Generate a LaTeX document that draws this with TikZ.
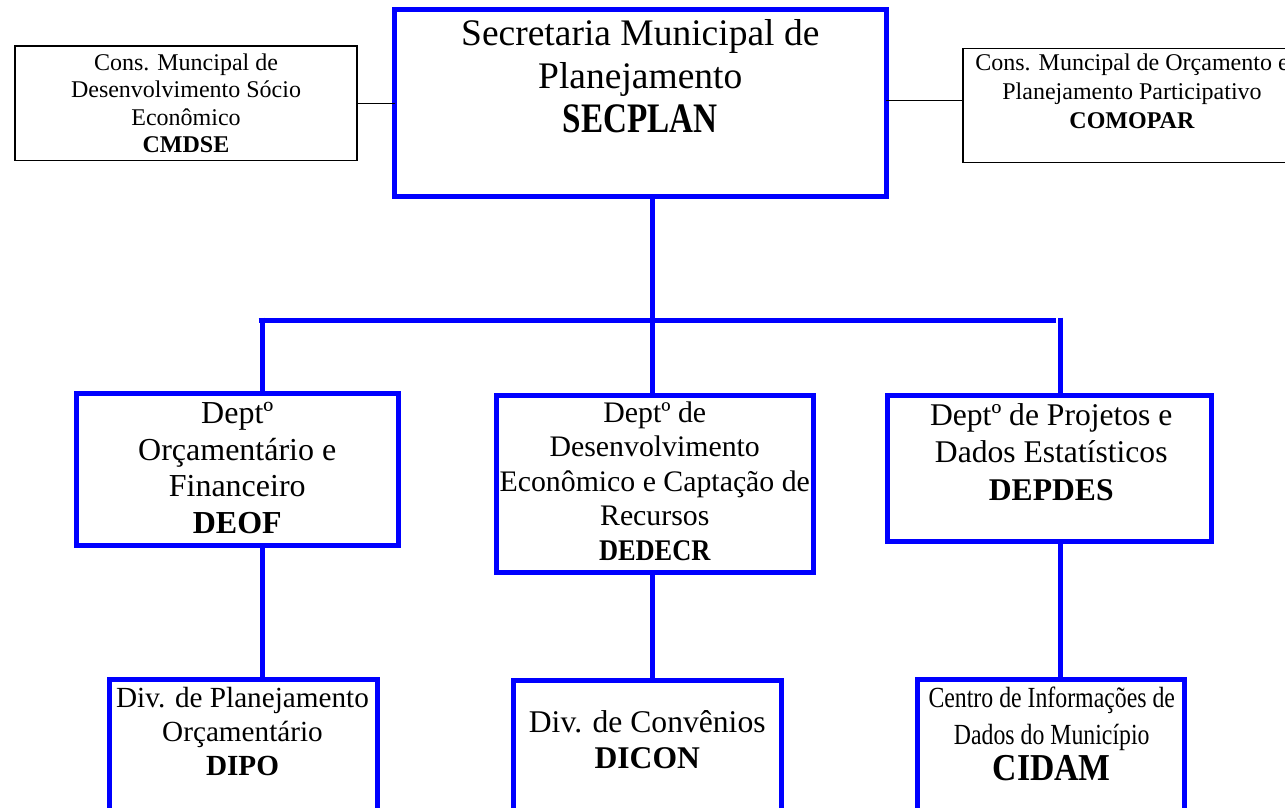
\documentclass[tikz,border=0pt]{standalone}
\usepackage{fontspec}
\usepackage{graphicx}
\setmainfont{Liberation Serif}
\definecolor{orgblue}{RGB}{0,0,255}
\tikzset{
  boxsize/.style 2 args={minimum width=#1, minimum height=#2},
  bluebox/.style={draw=orgblue, line width=5pt, outer sep=0pt, inner sep=0pt},
  councilbox/.style={draw=black, line width=1.3pt, outer sep=0pt, inner sep=0pt},
  boxtext/.style={anchor=north, align=center, inner sep=0pt},
  bluelink/.style={draw=orgblue, line width=5pt},
  councillink/.style={draw=black, line width=1.3pt}
}

\begin{document}
\begin{tikzpicture}[x=1pt, y=-1pt]
\useasboundingbox (0,0) rectangle (1285,808);

\node[bluebox, boxsize={491.5pt}{186.5pt},
  label={[boxtext, yshift=-9.6pt, font=\fontsize{37.5}{43.5}\selectfont]north:{Secretaria Municipal de\\Planejamento\\{\bfseries\fontsize{42}{43.5}\selectfont\scalebox{0.79}[1]{SECPLAN}}}}]
  (secplan) at (640.25,102.75) {};
\node[councilbox, boxsize={342pt}{114.7pt},
  label={[boxtext, yshift=-7.4pt, font=\fontsize{24}{27.5}\selectfont]north:{Cons. Muncipal de\\Desenvolvimento Sócio\\Econômico\\\textbf{CMDSE}}}]
  (cmdse) at (186,103.35) {};
\node[councilbox, boxsize={338pt}{114.4pt},
  label={[boxtext, yshift=-5.8pt, font=\fontsize{24}{28.7}\selectfont]north:{Cons. Muncipal de Orçamento e\\Planejamento Participativo\\\textbf{COMOPAR}}}]
  (comopar) at (1132,105.5) {};

\node[bluebox, boxsize={321.5pt}{152pt},
  label={[boxtext, yshift=-8.4pt, font=\fontsize{32}{36.7}\selectfont]north:{Deptº\\Orçamentário e\\Financeiro\\\textbf{DEOF}}}]
  (deof) at (237.25,469.5) {};
\node[bluebox, boxsize={316.5pt}{177pt},
  label={[boxtext, yshift=-6.4pt, font=\fontsize{29.8}{34.5}\selectfont]north:{Deptº de\\Desenvolvimento\\Econômico e Captação de\\Recursos\\{\bfseries\fontsize{30}{34.5}\selectfont\scalebox{0.88}[1]{DEDECR}}}}]
  (dedecr) at (654.75,483.5) {};
\node[bluebox, boxsize={323.5pt}{146.5pt},
  label={[boxtext, yshift=-8.2pt, xshift=2pt, font=\fontsize{31.6}{37.5}\selectfont]north:{Deptº de Projetos e\\Dados Estatísticos\\\textbf{DEPDES}}}]
  (depdes) at (1049.25,468.25) {};

\node[bluebox, boxsize={268pt}{131pt},
  label={[boxtext, yshift=-7.9pt, xshift=-1pt, font=\fontsize{29.2}{34}\selectfont]north:{Div. de Planejamento\\Orçamentário\\\textbf{DIPO}}}]
  (dipo) at (243.5,744.5) {};
\node[bluebox, boxsize={267.5pt}{130pt},
  label={[boxtext, yshift=-30.2pt, font=\fontsize{31.6}{36}\selectfont]north:{Div. de Convênios\\\textbf{DICON}}}]
  (dicon) at (647.25,745) {};
\node[bluebox, boxsize={267.5pt}{131pt},
  label={[boxtext, yshift=-7.9pt, xshift=1pt, font=\fontsize{29.2}{36.5}\selectfont]north:{\scalebox{0.815}[1]{Centro de Informações de}\\\scalebox{0.815}[1]{Dados do Município}\\{\bfseries\fontsize{38}{36.5}\selectfont\scalebox{0.887}[1]{CIDAM}}}}]
  (cidam) at (1050.75,744.5) {};

\coordinate (colL) at (262,320.5);
\coordinate (colM) at (652.5,320.5);
\coordinate (colR) at (1060,320.5);

\draw[councillink] (cmdse.east) -- (cmdse.east -| secplan.west);
\draw[councillink] ([yshift=4.8pt]comopar.west) -- ([yshift=4.8pt]comopar.west -| secplan.east);
\draw[bluelink] (secplan.south -| colM) -- (colM);
\draw[bluelink, line width=5.7pt] ([xshift=-3.5pt]colL) -- ([xshift=-4pt]colR);
\draw[bluelink] ([yshift=2.8pt]colL) -- (deof.north -| colL);
\draw[bluelink] (colM) -- (dedecr.north -| colM);
\draw[bluelink] ([yshift=2.8pt]colR) -- (depdes.north -| colR);
\draw[bluelink] (deof.south -| colL) -- (dipo.north -| colL);
\draw[bluelink] (dedecr.south -| colM) -- (dicon.north -| colM);
\draw[bluelink] (depdes.south -| colR) -- (cidam.north -| colR);
\end{tikzpicture}
\end{document}
